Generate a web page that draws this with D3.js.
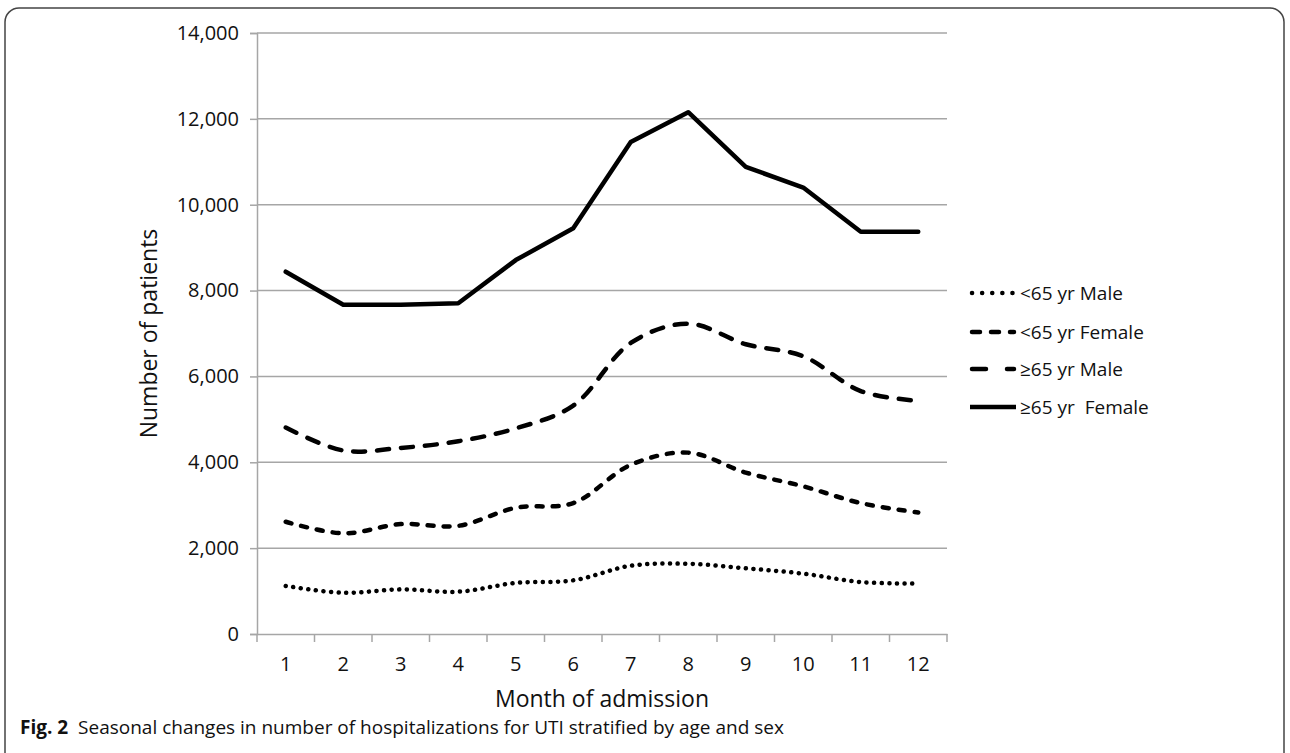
<!DOCTYPE html>
<html><head><meta charset="utf-8">
<script src="https://cdn.jsdelivr.net/npm/d3@7"></script>
<style>body{margin:0;background:#fff}svg text{white-space:pre}</style>
</head><body>
<svg id="c" width="1290" height="753"></svg>
<script>
const months = [1,2,3,4,5,6,7,8,9,10,11,12];
const under65Male   = [1120, 960, 1040, 985, 1190, 1250, 1590, 1635, 1530, 1405, 1210, 1175];
const under65Female = [2615, 2345, 2560, 2520, 2940, 3050, 3940, 4225, 3760, 3440, 3050, 2830];
const over65Male    = [4810, 4275, 4335, 4490, 4790, 5320, 6780, 7230, 6750, 6470, 5660, 5430];
const over65Female  = [8440, 7670, 7670, 7705, 8710, 9450, 11460, 12155, 10880, 10400, 9370, 9370];
const yTicks = [0,2000,4000,6000,8000,10000,12000,14000];
const seriesNames = ["<65 yr Male","<65 yr Female","\u226565 yr Male","\u226565 yr  Female"];

const svg = d3.select("#c");
const font = "'Open Sans', sans-serif";
// frame
svg.append("rect").attr("x",5).attr("y",8).attr("width",1279).attr("height",770)
  .attr("rx",14).attr("fill","none").attr("stroke","#444").attr("stroke-width",1.5);

const L=257, R=947, T=33, B=634;
const x = d3.scaleBand().domain(months).range([L,R]);
const y = d3.scaleLinear().domain([0,14000]).range([B,T]);

// gridlines
svg.append("g").selectAll("line").data(yTicks.slice(1)).join("line")
  .attr("x1",L).attr("x2",R).attr("y1",d=>y(d)).attr("y2",d=>y(d))
  .attr("stroke","#a6a6a6").attr("stroke-width",1.5);

// y axis
const ya = svg.append("g").attr("transform",`translate(${L},0)`)
  .call(d3.axisLeft(y).tickValues(yTicks).tickSize(7).tickPadding(11).tickFormat(d3.format(",")));
ya.select(".domain").attr("stroke","#a6a6a6").attr("stroke-width",1.5);
ya.selectAll(".tick line").attr("stroke","#a6a6a6").attr("stroke-width",1.5);
ya.selectAll("text").attr("font-family",font).attr("font-size",20).attr("fill","#111");

// x axis
const xa = svg.append("g").attr("transform",`translate(0,${B})`)
  .call(d3.axisBottom(x).tickSize(0).tickPadding(23));
xa.select(".domain").attr("stroke","#a6a6a6").attr("stroke-width",1.5);
xa.selectAll("text").attr("font-family",font).attr("font-size",20).attr("fill","#111");
const bounds = months.map(m=>x(m)).concat([R]);
svg.append("g").selectAll("line").data(bounds).join("line")
  .attr("x1",d=>d).attr("x2",d=>d).attr("y1",B).attr("y2",B+8)
  .attr("stroke","#a6a6a6").attr("stroke-width",1.5);

// axis titles
svg.append("text").attr("transform",`translate(157,${(T+B)/2}) rotate(-90)`)
  .attr("text-anchor","middle").attr("font-family",font).attr("font-size",23).attr("fill","#111")
  .text("Number of patients");
svg.append("text").attr("x",(L+R)/2).attr("y",707).attr("text-anchor","middle")
  .attr("font-family",font).attr("font-size",23).attr("fill","#111").text("Month of admission");

// series
const styles = [
  {data:under65Male, dash:"0.1 7.5", w:4.5, cap:"round", curve:d3.curveCatmullRom.alpha(0.5)},
  {data:under65Female, dash:"6 10", w:4.5, cap:"round", curve:d3.curveCatmullRom.alpha(0.5)},
  {data:over65Male, dash:"12 12", w:4.5, cap:"round", curve:d3.curveCatmullRom.alpha(0.5)},
  {data:over65Female, dash:null, w:4.5, cap:"round", curve:d3.curveLinear}
];
const cx = m => x(m)+x.bandwidth()/2;
styles.forEach(s=>{
  const line = d3.line().x((d,i)=>cx(months[i])).y(d=>y(d)).curve(s.curve);
  svg.append("path").datum(s.data).attr("d",line).attr("fill","none")
    .attr("stroke","#000").attr("stroke-width",s.w).attr("stroke-linecap",s.cap)
    .attr("stroke-linejoin","round").attr("stroke-dasharray",s.dash);
});

// legend
const legY = [293,332,369,407];
const legDash = ["0.1 10","8 11","14 21",null];
seriesNames.forEach((n,i)=>{
  svg.append("line").attr("x1",i===3?970:972).attr("x2",i===3?1016:1014).attr("y1",legY[i]).attr("y2",legY[i])
    .attr("stroke","#000").attr("stroke-width",4.5).attr("stroke-linecap",i===3?"butt":"round")
    .attr("stroke-dasharray",legDash[i]);
  svg.append("text").attr("x",1020).attr("y",legY[i]).attr("dy","0.36em")
    .attr("font-family",font).attr("font-size",19).attr("fill","#111").text(n);
});

// caption
const cap = svg.append("text").attr("x",20).attr("y",734).attr("font-family",font).attr("font-size",19).attr("fill","#111");
cap.append("tspan").attr("font-weight","bold").text("Fig. 2");
cap.append("tspan").text("  Seasonal changes in number of hospitalizations for UTI stratified by age and sex");
</script>
</body></html>
